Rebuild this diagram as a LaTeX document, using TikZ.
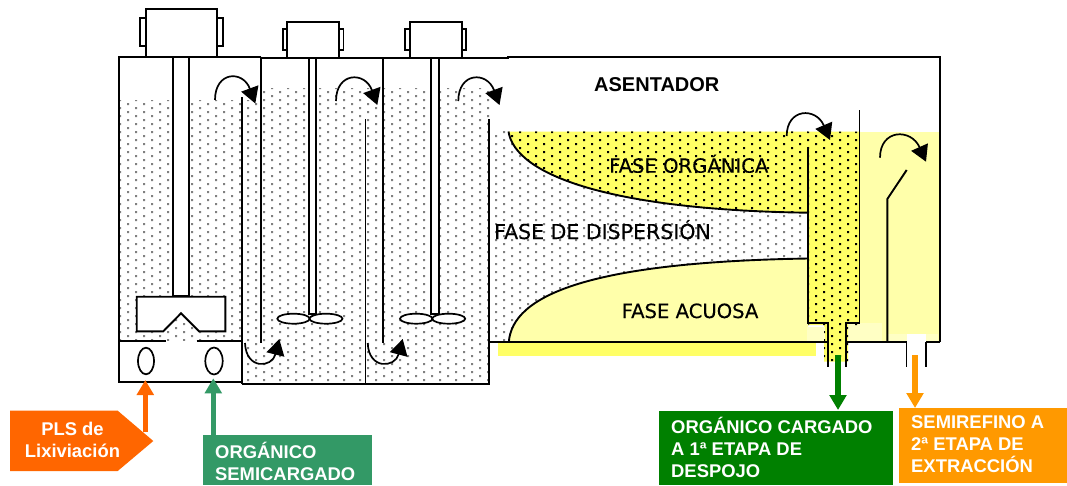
\documentclass[tikz,border=0pt]{standalone}
\usepackage{fontspec}
\setmainfont{Liberation Sans}
\newfontfamily\phasefont[FakeBold=0.25]{DejaVu Sans}
\usetikzlibrary{arrows.meta,calc}
\definecolor{orgyellow}{HTML}{FFFF66}
\definecolor{aqyellow}{HTML}{FFFFAA}
\definecolor{paleyellow}{HTML}{FFFFC4}
\definecolor{plsorange}{HTML}{FF6600}
\definecolor{semigreen}{HTML}{339966}
\definecolor{cargreen}{HTML}{008000}
\definecolor{semiorange}{HTML}{FF9900}
\definecolor{dotgrey}{HTML}{808080}
\newcommand{\dotfield}[5]{% color, x0, x1, y0, y1
  \fill[#1]
  \foreach \ci in {#2,...,#3}{
    \foreach \cj in {#4,...,#5}{
      ({\ci*8-1},{\cj*8+4*mod(\ci,2)-1}) rectangle ++(2,2)
    }
  };
}
\tikzset{
  wall/.style={line width=1.9pt,draw=black},
  curl/.style={line width=1.7pt,-{Triangle[length=16pt,width=18pt]}},
  bigarrow/.style={line width=5.5pt,-{Triangle[length=15pt,width=16.5pt]}},
  boxtext/.style={text=white,font=\bfseries\fontsize{18.4}{22}\selectfont,align=left,anchor=north west,inner sep=0pt},
  phase/.style={font=\phasefont\fontsize{19.6}{22}\selectfont,anchor=base west,inner sep=0pt},
  motor/.style={line width=1.9pt,draw=black,fill=white},
  blade/.style={line width=1.7pt,draw=black,fill=white}
}
\begin{document}
\begin{tikzpicture}[x=1pt,y=-1pt]
\useasboundingbox (0,0) rectangle (1067,485);
% grey dotted liquor
\begin{scope}
  \clip (119,100) -- (260.7,100) -- (260.7,88) -- (489,88) -- (489,130.5) -- (808,130.5) -- (808,342) -- (489,342) -- (489,384) -- (242,384) -- (242,341) -- (119,341) -- cycle;
  \dotfield{dotgrey}{14}{101}{10}{48}
\end{scope}
% organic phase
\path[fill=orgyellow] (508.5,131.5) .. controls (515,175) and (610,210) .. (808.3,212.7) -- (808.3,325) -- (824,325) -- (824,361.7) -- (848,361.7) -- (848,325) -- (860,325) -- (860,131.5) -- cycle;
\fill[aqyellow] (860,132) rectangle (940,342.3);
\fill[aqyellow] (508.8,342.3) .. controls (512,295) and (590,262) .. (808,258.5) -- (808,342.3) -- cycle;
\fill[paleyellow] (807,327) rectangle (825,342);
\fill[paleyellow] (848,323) rectangle (882,342);
\fill[paleyellow] (888,334) rectangle (938,342);
\fill[white] (907,334) rectangle (926,343);
\fill[orgyellow] (498,343.3) rectangle (816,355.7);
\begin{scope}
  \clip (508.5,131.5) .. controls (515,175) and (610,210) .. (808.3,212.7) -- (808.3,325) -- (824,325) -- (824,361.7) -- (848,361.7) -- (848,325) -- (860,325) -- (860,131.5) -- cycle;
  \dotfield{black}{63}{107}{16}{45}
\end{scope}
% phase boundaries
\draw[line width=1.9pt] (508.5,131.5) .. controls (515,175) and (610,210) .. (808.3,212.7);
\draw[line width=1.9pt] (508.8,342.3) .. controls (512,295) and (590,262) .. (808,258.5);
% tank walls
\draw[wall] (260.7,56.7) -- (119,56.7) -- (119,381.7) -- (242,381.7);
\draw[wall] (242,383.7) -- (489,383.7) -- (489,119);
\draw[wall] (241.7,97) -- (241.7,383.7);
\draw[wall] (260.7,56.7) -- (260.7,343);
\draw[wall] (383.3,58) -- (383.3,343);
\draw[wall] (365.5,119) -- (365.5,383.7);
\draw[wall] (260.7,58) -- (508,58) -- (508,57.3) -- (940,57.3) -- (940,342.3);
% settler bottom and weirs
\draw[wall] (489,342.3) -- (828,342.3);
\draw[wall] (845.8,342.3) -- (906.5,342.3);
\draw[wall] (926,342.3) -- (940,342.3);
\draw[wall] (808.3,146.7) -- (808.3,322.7) -- (828,322.7) -- (828,366.7);
\draw[wall] (859.5,110) -- (859.5,322.7) -- (845.8,322.7) -- (845.8,366.7);
\draw[wall] (887.3,342.3) -- (887.3,199) -- (906.7,170);
\draw[wall] (906.5,342.3) -- (906.5,366.7);
\draw[wall] (926,342.3) -- (926,366.7);
% motors, shafts, impellers
\draw[motor] (139.7,17.7) rectangle (145.7,45.7);
\draw[motor] (216.7,17.7) rectangle (222.7,45.7);
\draw[motor] (145.7,9) rectangle (216.7,56.7);
\draw[motor] (172.7,56.7) rectangle (189,296);
\draw[motor] (136.7,296.7) -- (225.3,296.7) -- (225.3,331.3) -- (199,331.3) -- (181,313.3) -- (163.3,331.3) -- (136.7,331.3) -- cycle;
\fill[white] (119.8,341) rectangle (241,381);
\draw[wall] (119,340.7) -- (165.7,340.7);
\draw[wall] (196.7,340.7) -- (241.7,340.7);
\draw[blade] (146,361) ellipse [x radius=8,y radius=13.3];
\draw[blade] (214,361) ellipse [x radius=8.7,y radius=13.5];
\foreach \dx in {0,122.7}{
  \draw[motor] ({282.7+\dx},29) rectangle ({287.3+\dx},50);
  \draw[motor] ({339+\dx},29) rectangle ({343.5+\dx},50);
  \draw[motor] ({287.3+\dx},22) rectangle ({339+\dx},58);
  \draw[wall,fill=white] ({308.7+\dx},58) rectangle ({316+\dx},314);
  \draw[blade] ({293.5+\dx},318.7) ellipse [x radius=16.2,y radius=5];
  \draw[blade] ({326+\dx},318.7) ellipse [x radius=16.5,y radius=5];
}
% flow arrows
\draw[curl] (215,100) .. controls (215,71) and (243,70) .. (255.3,103.5);
\draw[curl] (336,101) .. controls (336,72) and (365,71) .. (377.3,105);
\draw[curl] (458.3,101) .. controls (458.3,72) and (487,71) .. (499.5,105);
\draw[curl] (786.7,136) .. controls (786.7,108) and (816,107) .. (830,140);
\draw[curl] (880,157.7) .. controls (880,129) and (911,128) .. (926,161.7);
\draw[curl] (245,343) .. controls (246,370) and (272,368) .. (279.3,339);
\draw[curl] (367.7,343) .. controls (368.7,370) and (395,368) .. (402.7,339);
% labels in the settler
\node[anchor=base west,inner sep=0pt,font=\bfseries\fontsize{20}{22}\selectfont] (asent) at (594,91) {ASENTADOR};
\node[phase] (forg) at (609,172.7) {FASE ORGÁNICA};
\node[phase,font=\phasefont\fontsize{20.5}{22}\selectfont] (fdis) at (494,239) {FASE DE DISPERSIÓN};
\node[phase] (facu) at (621.5,318) {FASE ACUOSA};
% input / output boxes
\fill[plsorange] (10,410.7) -- (117.7,410.7) -- (153.3,441) -- (117.7,471) -- (10,471) -- cycle;
\node[text=white,font=\bfseries\fontsize{18.4}{22}\selectfont,align=center,inner sep=0pt,anchor=center] (pls) at (72.5,440) {PLS de\\Lixiviación};
\fill[semigreen] (203,435) rectangle (372,485);
\node[boxtext] (osc) at (215,441.5) {ORGÁNICO\\SEMICARGADO};
\fill[cargreen] (659,411) rectangle (893,485);
\node[boxtext] (occ) at (671,417) {ORGÁNICO CARGADO\\A 1ª ETAPA DE\\DESPOJO};
\fill[semiorange] (899,408) rectangle (1067,482.7);
\node[boxtext] (sem) at (911,415) {SEMIREFINO A\\2ª ETAPA DE\\EXTRACCIÓN};
% process arrows
\coordinate (plsout) at (145.3,432);
\coordinate (plsin) at (145.3,380);
\coordinate (oscout) at (213.3,436);
\coordinate (oscin) at (213.3,378.3);
\coordinate (occfrom) at (838,355);
\coordinate (occto) at (838,410);
\coordinate (semfrom) at (915,355);
\coordinate (semto) at (915,408);
\draw[bigarrow,draw=plsorange,fill=plsorange] (plsout) -- (plsin);
\draw[bigarrow,draw=semigreen,fill=semigreen] (oscout) -- (oscin);
\draw[bigarrow,draw=cargreen,fill=cargreen] (occfrom) -- (occto);
\draw[bigarrow,draw=semiorange,fill=semiorange] (semfrom) -- (semto);
\end{tikzpicture}
\end{document}
